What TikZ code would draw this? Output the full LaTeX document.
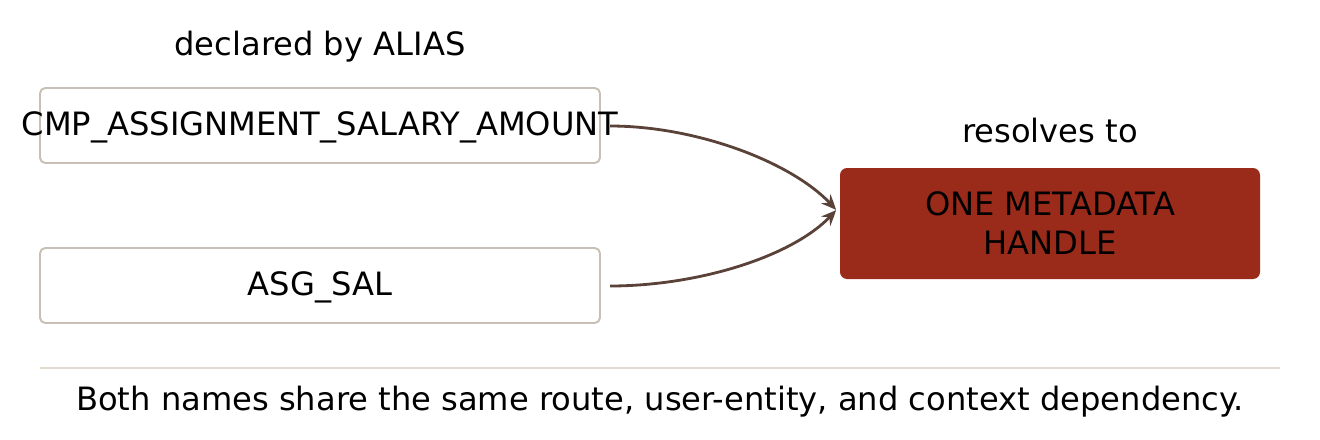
\documentclass[tikz,border=0pt]{standalone}
\usepackage{fontspec}
\setmainfont{DejaVu Sans}
\usetikzlibrary{arrows.meta,bending}

\definecolor{boxline}{HTML}{C8C0B4}
\definecolor{handlered}{HTML}{9A2A1A}
\definecolor{linkbrown}{HTML}{5A4238}
\definecolor{rulecol}{HTML}{E2DACE}

\tikzset{
  namebox/.style={draw=boxline, line width=1.1pt, rounded corners=3pt, fill=white},
  handlebox/.style={fill=handlered, rounded corners=4pt},
  lbl/.style={font=\fontsize{18.3}{22}\selectfont, inner sep=0pt},
  link/.style={draw=linkbrown, line width=1.6pt, -{Stealth[length=0.3cm, width=0.26cm, inset=0.1cm, bend]}}
}

\begin{document}
\begin{tikzpicture}[x=0.02cm, y=-0.02cm]
\useasboundingbox (0,0) rectangle (1320,440);

% alias boxes
\draw[namebox] (40,88) rectangle (600,163);
\draw[namebox] (40,248) rectangle (600,323);
\node[lbl] (long) at (320,127) {CMP\_ASSIGNMENT\_SALARY\_AMOUNT};
\node[lbl] (short) at (320,287) {ASG\_SAL};
\node[lbl] (declared) at (320,47) {declared by ALIAS};

% target
\fill[handlebox] (840,168) rectangle (1260,279);
\node[lbl, align=center, text=black] (handle) at (1050,223) {ONE METADATA\\HANDLE};
\node[lbl] (resolves) at (1050,131) {resolves to};

% links
\coordinate (longend) at (610,126);
\coordinate (shortend) at (610,286);
\coordinate (meet) at (836,210);
\draw[link] (longend) .. controls (700,126) and (800,165) .. (meet);
\draw[link] (shortend) .. controls (700,286) and (800,255) .. (meet);

% footer
\draw[rulecol, line width=1pt] (40,368) -- (1280,368);
\node[lbl] (footer) at (660,402) {Both names share the same route, user-entity, and context dependency.};
\end{tikzpicture}
\end{document}
